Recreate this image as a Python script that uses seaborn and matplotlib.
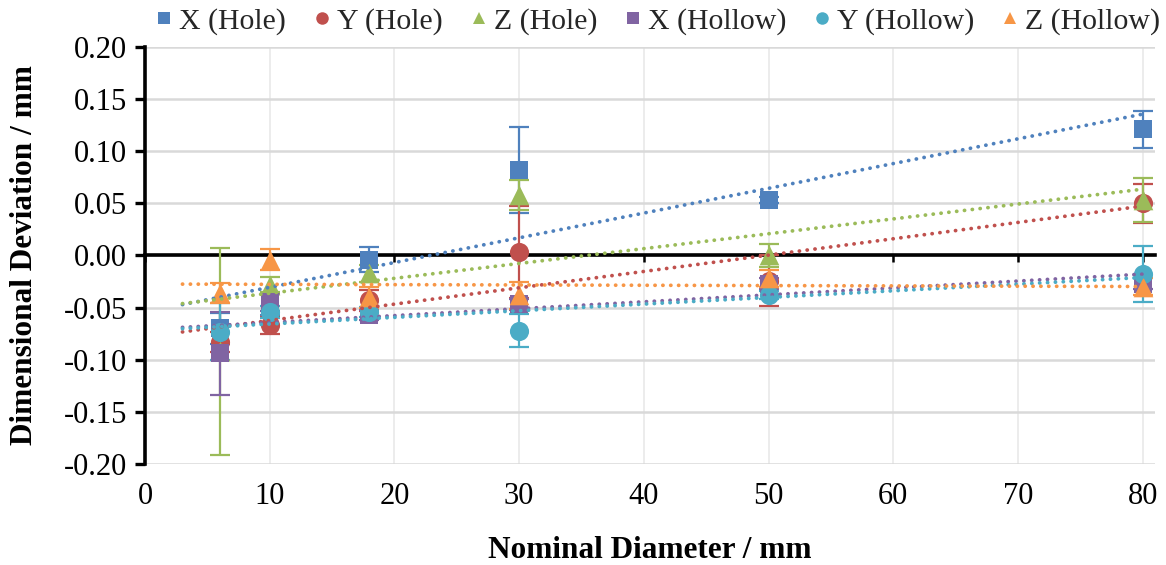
import numpy as np
import pandas as pd
import matplotlib
matplotlib.use("Agg")
import matplotlib.pyplot as plt
import seaborn as sns
from matplotlib.lines import Line2D

# ---------------- data ----------------
diameters = [6, 10, 18, 30, 50, 80]
series_names = ["X (Hole)", "Y (Hole)", "Z (Hole)", "X (Hollow)", "Y (Hollow)", "Z (Hollow)"]

x_hole = [-0.070, -0.047, -0.004, 0.082, 0.053, 0.121]
x_hole_err = [0.015, 0.010, 0.012, 0.041, 0.003, 0.018]
y_hole = [-0.083, -0.067, -0.043, 0.003, -0.024, 0.050]
y_hole_err = [0.010, 0.008, 0.010, 0.044, 0.024, 0.019]
z_hole = [-0.092, -0.028, -0.017, 0.058, 0.000, 0.053]
z_hole_err = [0.099, 0.007, 0.008, 0.014, 0.011, 0.021]
x_hollow = [-0.094, -0.045, -0.057, -0.047, -0.027, -0.027]
x_hollow_err = [0.040, 0.008, 0.005, 0.005, 0.005, 0.005]
y_hollow = [-0.073, -0.054, -0.054, -0.072, -0.038, -0.018]
y_hollow_err = [0.027, 0.006, 0.005, 0.016, 0.004, 0.027]
z_hollow = [-0.036, -0.004, -0.040, -0.038, -0.022, -0.030]
z_hollow_err = [0.010, 0.010, 0.010, 0.013, 0.008, 0.008]

x_ticks = [0, 10, 20, 30, 40, 50, 60, 70, 80]
y_ticks = [-0.20, -0.15, -0.10, -0.05, 0.00, 0.05, 0.10, 0.15, 0.20]
y_tick_labels = ["-0.20", "-0.15", "-0.10", "-0.05", "0.00", "0.05", "0.10", "0.15", "0.20"]

values = [x_hole, y_hole, z_hole, x_hollow, y_hollow, z_hollow]
errors = [x_hole_err, y_hole_err, z_hole_err, x_hollow_err, y_hollow_err, z_hollow_err]

# ---------------- style ----------------
colors = ["#4F81BD", "#C0504D", "#9BBB59", "#8064A2", "#4BACC6", "#F79646"]
markers = ["s", "o", "^", "s", "o", "^"]
marker_sizes = [170, 190, 200, 170, 190, 200]
trend_start = 3.0

sns.set_theme(style="white")
plt.rcParams["font.family"] = ["Liberation Serif", "DejaVu Serif"]

fig = plt.figure(figsize=(11.66, 5.65), dpi=100)
ax = fig.add_axes([0.1244, 0.1788, 0.8662, 0.738])

# trend lines (linear fits, extended backwards)
for name, vals, c in zip(series_names, values, colors):
    slope, icpt = np.polyfit(diameters, vals, 1)
    xt = np.linspace(trend_start, max(diameters), 50)
    tdf = pd.DataFrame({"x": xt, "y": slope * xt + icpt})
    sns.lineplot(data=tdf, x="x", y="y", ax=ax, color=c, lw=2.7,
                 linestyle=(0, (0.05, 2.05)), dash_capstyle="round",
                 zorder=4, legend=False)

# error bars and markers
for name, vals, errs, c, m, ms in zip(series_names, values, errors, colors, markers, marker_sizes):
    ax.errorbar(diameters, vals, yerr=errs, fmt="none", ecolor=c,
                elinewidth=1.6, capsize=7, capthick=1.6, zorder=3)
    df = pd.DataFrame({"d": diameters, "v": vals})
    sns.scatterplot(data=df, x="d", y="v", ax=ax, color=c, marker=m, s=ms,
                    edgecolor=c, linewidth=0, zorder=3.5, legend=False)

# axes
ax.set_xlim(0, 81)
ax.set_ylim(-0.2, 0.2)
ax.set_xticks(x_ticks)
ax.set_yticks(y_ticks)
ax.set_yticklabels(y_tick_labels)
ax.xaxis.grid(True, color="#EBEBEB", lw=1.3)
ax.yaxis.grid(True, color="#D9D9D9", lw=1.8)
ax.set_axisbelow(True)
for s in ["top", "right", "bottom"]:
    ax.spines[s].set_visible(False)
ax.spines["left"].set_color("black")
ax.spines["left"].set_linewidth(2.6)
ax.tick_params(axis="y", which="both", left=True, direction="out", length=7,
               width=2.4, color="black", labelsize=22, pad=6, labelcolor="black")
ax.tick_params(axis="x", which="both", bottom=False, length=0, labelsize=22,
               pad=13, labelcolor="black")

# zero line axis with ticks
sec = ax.secondary_xaxis(0.5)
sec.set_alignment("bottom")
sec.set_xticks(x_ticks)
sec.tick_params(axis="x", direction="out", length=5, width=1.8, color="black",
                labelbottom=False, labeltop=False)
for s in sec.spines.values():
    s.set_color("black")
    s.set_linewidth(2.6)
sec.set_zorder(1)

ax.set_xlabel("Nominal Diameter / mm", fontsize=22.5, fontweight="bold", labelpad=18, color="black")
ax.set_ylabel("Dimensional Deviation / mm", fontsize=22.5, fontweight="bold", labelpad=18, color="black")

handles = [Line2D([], [], linestyle="none", marker=m, color=c, markersize=9, markeredgewidth=0)
           for m, c in zip(markers, colors)]
fig.legend(handles, series_names, loc="center", bbox_to_anchor=(0.563, 0.963), ncol=6,
           frameon=False, fontsize=21.5, handletextpad=0.1, columnspacing=0.8,
           handlelength=0.8, borderaxespad=0)

fig.savefig("out.png", dpi=100)
